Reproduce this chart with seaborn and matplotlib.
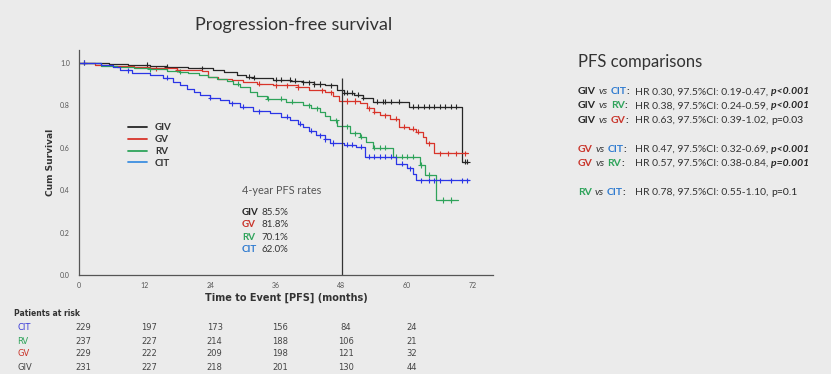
import numpy as np
import pandas as pd
import seaborn as sns
from matplotlib import pyplot as plt
from matplotlib.lines import Line2D
from matplotlib import transforms

# Kaplan-Meier step points (time in months, survival after the step)
giv_t = [0, 5.5, 9, 13, 16, 20, 22.5, 24.5, 26.5, 28.8, 30.5, 32, 35.5, 38.6, 40.9, 43, 45, 47.2, 48.5,
         50.2, 52, 53.7, 60.4, 70, 71.2]
giv_s = [1.0, 0.996, 0.99, 0.985, 0.98, 0.976, 0.973, 0.965, 0.955, 0.944, 0.935, 0.929, 0.921, 0.915, 0.908,
         0.900, 0.893, 0.872, 0.858, 0.849, 0.835, 0.816, 0.792, 0.533, 0.533]
gv_t = [0, 3, 6, 10, 13, 18, 22.5, 23.5, 25.5, 28, 30, 32.5, 35.5, 40, 42, 45, 46.5, 47.5, 51.3, 52.6, 54,
        55, 56.8, 58.6, 60.4, 61.7, 62.9, 63.5, 65, 71.2]
gv_s = [1.0, 0.99, 0.985, 0.98, 0.973, 0.968, 0.96, 0.933, 0.925, 0.918, 0.91, 0.902, 0.894, 0.886, 0.871,
        0.86, 0.845, 0.82, 0.808, 0.786, 0.77, 0.753, 0.737, 0.698, 0.69, 0.675, 0.651, 0.62, 0.573, 0.573]
rv_t = [0, 4, 7, 10, 13, 16, 18.5, 20, 22, 23.5, 25.2, 27, 28.2, 29.5, 31.2, 32.5, 34.3, 37.9, 40.9, 42.5,
        44, 45, 45.9, 47.2, 49.5, 51.3, 52.5, 53.7, 57.4, 62.3, 63.2, 65.3, 69.3]
rv_s = [1.0, 0.985, 0.978, 0.973, 0.969, 0.963, 0.957, 0.95, 0.941, 0.933, 0.925, 0.914, 0.902, 0.885, 0.863,
        0.845, 0.831, 0.816, 0.8, 0.785, 0.769, 0.75, 0.729, 0.701, 0.667, 0.651, 0.627, 0.6, 0.557, 0.518,
        0.471, 0.353, 0.353]
cit_t = [0, 4, 6.3, 7.5, 9.6, 13, 15.4, 17.2, 18.5, 19.7, 21, 22.1, 24, 25.8, 27.5, 29.4, 31.8, 34.9, 37,
         38.6, 40, 40.9, 42, 43.4, 45, 45.9, 48.5, 50.7, 52.3, 58, 59.9, 61, 61.7, 71.4]
cit_s = [1.0, 0.99, 0.98, 0.965, 0.954, 0.941, 0.929, 0.91, 0.895, 0.878, 0.862, 0.847, 0.835, 0.824, 0.808,
         0.792, 0.772, 0.764, 0.745, 0.729, 0.712, 0.698, 0.68, 0.659, 0.64, 0.622, 0.613, 0.604, 0.557, 0.525,
         0.502, 0.478, 0.447, 0.447]

# censored observations (months)
giv_cens = [1, 12.5, 16, 22.5, 31, 32, 36, 37, 38.5, 39.5, 41, 42, 43, 44, 46, 48.5, 49, 50, 51, 52, 54.5,
            55.5, 56, 57, 58.5, 61, 62, 63, 64, 65, 66, 67, 68, 69, 70.5, 71]
gv_cens = [14, 18, 33, 36, 38, 40, 44.5, 46, 49, 50.5, 53, 54, 56, 58, 59.5, 61, 62, 64, 66, 67.5, 69, 70.5]
rv_cens = [13, 18.5, 29, 34.5, 37, 39, 42, 43.5, 47, 49, 50.5, 51.5, 54, 55, 56, 58, 59, 60, 61, 62.5, 64,
           66.5, 68]
cit_cens = [1, 9, 16, 24, 28, 30, 33, 38, 40.5, 42.5, 44, 45, 46.5, 49, 50, 51.5, 53, 54, 55, 56, 57, 59,
            60.5, 62.5, 64, 65, 66, 68, 70, 71]

arms = ["GIV", "GV", "RV", "CIT"]
rates = ["85.5%", "81.8%", "70.1%", "62.0%"]

risk_times = [0, 12, 24, 36, 48, 60]
risk_rows = ["CIT", "RV", "GV", "GIV"]
risk_cit = [229, 197, 173, 156, 84, 24]
risk_rv = [237, 227, 214, 188, 106, 21]
risk_gv = [229, 222, 209, 198, 121, 32]
risk_giv = [231, 227, 218, 201, 130, 44]

comparisons = [
    ("GIV", "CIT", "HR 0.30, 97.5%CI: 0.19-0.47, ", "p<0.001", True),
    ("GIV", "RV", "HR 0.38, 97.5%CI: 0.24-0.59, ", "p<0.001", True),
    ("GIV", "GV", "HR 0.63, 97.5%CI: 0.39-1.02, ", "p=0.03", False),
    ("GV", "CIT", "HR 0.47, 97.5%CI: 0.32-0.69, ", "p<0.001", True),
    ("GV", "RV", "HR 0.57, 97.5%CI: 0.38-0.84, ", "p=0.001", True),
    ("RV", "CIT", "HR 0.78, 97.5%CI: 0.55-1.10, ", "p=0.1", False),
]

curve_col = {"GIV": "#262626", "GV": "#d8342a", "RV": "#2ea35a", "CIT": "#2b35e6"}
legend_col = {"GIV": "#262626", "GV": "#d8342a", "RV": "#2ea35a", "CIT": "#3d8ee0"}
text_col = {"GIV": "#262626", "GV": "#c9342a", "RV": "#2ea35a", "CIT": "#2f7bd0"}
bg = "#ebebeb"

curves = {"GIV": (giv_t, giv_s, giv_cens), "GV": (gv_t, gv_s, gv_cens),
          "RV": (rv_t, rv_s, rv_cens), "CIT": (cit_t, cit_s, cit_cens)}

rows = []
cens_rows = []
for arm in arms:
    t, s, c = curves[arm]
    for ti, si in zip(t, s):
        rows.append([arm, ti, si])
    idx = np.searchsorted(t, c, side="right") - 1
    for ci, k in zip(c, idx):
        cens_rows.append([arm, ci, s[k]])
df = pd.DataFrame(rows, columns=["arm", "time", "surv"])
cens = pd.DataFrame(cens_rows, columns=["arm", "time", "surv"])

sns.set_style("white")
plt.rcParams["font.family"] = ["Lato", "DejaVu Sans"]

fig = plt.figure(figsize=(8.31, 3.74), dpi=100, facecolor=bg)
ax = fig.add_axes([79 / 831, 1 - 275 / 374, 414 / 831, 225 / 374])
ax.set_facecolor(bg)


def fx(px):
    return px / 831


def fy(py):
    return 1 - py / 374


sns.lineplot(data=df, x="time", y="surv", hue="arm", palette=curve_col, estimator=None,
             drawstyle="steps-post", linewidth=0.9, legend=False, ax=ax)
sns.scatterplot(data=cens, x="time", y="surv", hue="arm", palette=curve_col, marker="+",
                s=14, linewidth=0.8, legend=False, ax=ax)

ax.vlines(48, 0, 0.93, color="#333333", linewidth=0.9)

ax.set_xlim(0, 75.7)
ax.set_ylim(0, 1.06)
ax.set_xticks(risk_times + [72])
ax.set_yticks([0, 0.2, 0.4, 0.6, 0.8, 1.0])
ax.set_yticklabels(["0.0", "0.2", "0.4", "0.6", "0.8", "1.0"])
ax.tick_params(axis="both", labelsize=5, labelcolor="#555555", color="#555555", length=3, width=0.7)
ax.tick_params(axis="x", direction="inout")
sns.despine(ax=ax)
for sp in ["left", "bottom"]:
    ax.spines[sp].set_color("#555555")
    ax.spines[sp].set_linewidth(0.9)
ax.set_xlabel("Time to Event [PFS] (months)", fontsize=7, fontweight="bold", color="#333333",
              family="DejaVu Sans", labelpad=3)
ax.set_ylabel("Cum Survival", fontsize=6.5, fontweight="bold", color="#333333",
              family="DejaVu Sans", labelpad=3.5)

handles = [Line2D([], [], color=legend_col[a], linewidth=1.3) for a in arms]
leg = ax.legend(handles, arms, loc="upper left", bbox_to_anchor=(0.118, 0.675), frameon=False,
                borderpad=0, borderaxespad=0, handlelength=2.0, handletextpad=0.8, labelspacing=0.3,
                prop={"size": 7, "weight": "bold", "family": "Lato"})
for t in leg.get_texts():
    t.set_color("#333333")

# title
fig.text(fx(294), fy(25), "Progression-free survival", ha="center", va="center", fontsize=13,
         color="#333333")

# 4-year PFS rates
fig.text(fx(242), fy(190), "4-year PFS rates", ha="left", va="center", fontsize=7.8, color="#555555")
for i, (a, r) in enumerate(zip(arms, rates)):
    y = fy(212 + 12.5 * i)
    fig.text(fx(242), y, a, ha="left", va="center", fontsize=7, fontweight="bold", color=text_col[a])
    fig.text(fx(261), y, r, ha="left", va="center", fontsize=7, color="#333333")

# comparisons panel
fs = 7.5
fig.text(fx(578), fy(62), "PFS comparisons", ha="left", va="center", fontsize=12, color="#333333")
line_y = [92, 106, 120.5, 149, 163, 192]
for (a, b, hr, p, bold_p), py in zip(comparisons, line_y):
    t0 = fig.text(fx(578), fy(py), a, ha="left", va="center", fontsize=fs, fontweight="bold",
                  color=text_col[a])
    t1 = ax.annotate("vs", xycoords=t0, xy=(1, 0), xytext=(2, 0), textcoords="offset points",
                     va="bottom", fontsize=fs, style="italic", color="#333333", annotation_clip=False)
    t2 = ax.annotate(b, xycoords=t1, xy=(1, 0), xytext=(2, 0), textcoords="offset points",
                     va="bottom", fontsize=fs, fontweight="bold", color=text_col[b], annotation_clip=False)
    ax.annotate(":", xycoords=t2, xy=(1, 0), va="bottom", fontsize=fs, fontweight="bold",
                color="#262626", annotation_clip=False)
    t4 = fig.text(fx(635), fy(py), hr, ha="left", va="center", fontsize=fs, color="#333333")
    ax.annotate(p, xycoords=t4, xy=(1, 0), va="bottom", fontsize=fs, color="#262626",
                fontweight="bold" if bold_p else "normal", style="italic" if bold_p else "normal",
                annotation_clip=False)

# patients at risk table
fig.text(fx(14), fy(314), "Patients at risk", ha="left", va="center", fontsize=5.5, fontweight="bold",
         color="#333333", family="DejaVu Sans")
risk_vals = {"CIT": risk_cit, "RV": risk_rv, "GV": risk_gv, "GIV": risk_giv}
row_col = {"CIT": "#3a3ad8", "RV": "#2ea35a", "GV": "#c9342a", "GIV": "#444444"}
trans = transforms.blended_transform_factory(ax.transData, fig.transFigure)
for i, r in enumerate(risk_rows):
    y = fy(328 + 13 * i)
    fig.text(fx(17), y, r, ha="left", va="center", fontsize=6, color=row_col[r], family="DejaVu Sans")
    for tm, v in zip(risk_times, risk_vals[r]):
        ax.text(tm + 0.8, y, str(v), transform=trans, ha="center", va="center", fontsize=6,
                color="#444444", family="DejaVu Sans", clip_on=False)

fig.savefig("out.png", dpi=100, facecolor=bg)
